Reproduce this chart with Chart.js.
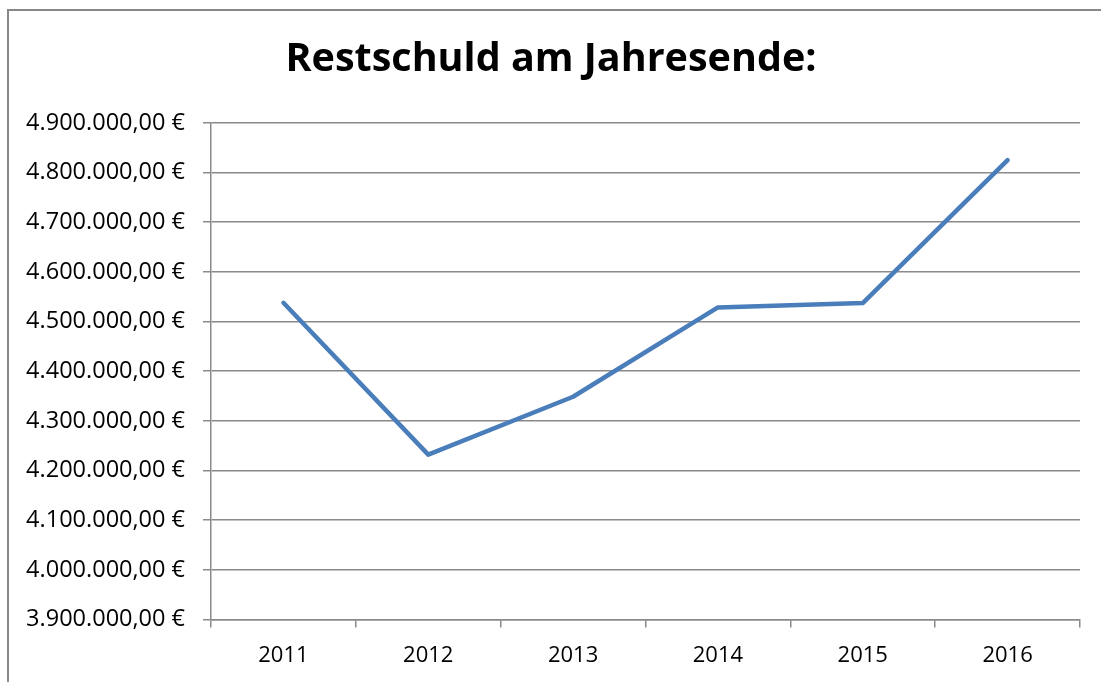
<!DOCTYPE html>
<html>
<head>
<meta charset="utf-8">
<script src="https://cdn.jsdelivr.net/npm/chart.js@4"></script>
<style>
    html, body { margin: 0; padding: 0; background: #fff; }
    #wrap { width: 1101px; height: 682px; }
</style>
</head>
<body>
<div id="wrap"><canvas id="chart" width="1101" height="682"></canvas></div>
<script>
let years = ['2011', '2012', '2013', '2014', '2015', '2016'];
let restschuld = [4537700, 4232000, 4348500, 4528400, 4537100, 4824900];
let yMin = 3900000;
let yMax = 4900000;
let yStep = 100000;

// 4900000 -> "4.900.000,00 €"
function euro(v) {
    let s = Math.round(v).toString();
    s = s.replace(/\B(?=(\d{3})+(?!\d))/g, '.');
    return s + ',00 €';
}

let gridGray = '#8a8a8a';

// Rahmen um das Diagramm wie in Excel
const frame = {
    id: 'frame',
    beforeDraw(chart) {
        let ctx = chart.ctx;
        ctx.save();
        ctx.fillStyle = '#fff';
        ctx.fillRect(0, 0, chart.width, chart.height);
        ctx.strokeStyle = '#888';
        ctx.lineWidth = 2;
        ctx.strokeRect(8, 10, 1200, 800);
        ctx.restore();
    }
};

new Chart(document.getElementById('chart'), {
    type: 'line',
    data: {
        labels: years,
        datasets: [
            {
                label: 'Restschuld',
                data: restschuld,
                borderColor: '#4a7ebb',
                borderWidth: 4.5,
                borderCapStyle: 'round',
                borderJoinStyle: 'round',
                pointRadius: 0,
                tension: 0,
                fill: false
            }
        ]
    },
    options: {
        responsive: false,
        animation: false,
        layout: {
            padding: { top: 0, right: 21, bottom: 0, left: 22 }
        },
        plugins: {
            legend: { display: false },
            tooltip: { enabled: false },
            title: {
                display: true,
                text: 'Restschuld am Jahresende:',
                color: '#000',
                font: { family: 'Open Sans', size: 39.5, weight: 'bold' },
                padding: { top: 36, bottom: 39.5 }
            }
        },
        scales: {
            x: {
                offset: true,
                grid: {
                    offset: true,
                    drawOnChartArea: false,
                    drawTicks: true,
                    tickLength: 8,
                    color: gridGray,
                    lineWidth: 1.5
                },
                border: { color: gridGray, width: 1.5 },
                ticks: {
                    color: '#000',
                    font: { family: 'Open Sans', size: 22 },
                    padding: 15,
                    maxRotation: 0
                },
                afterFit(scale) { scale.height = 62.5; }
            },
            y: {
                min: yMin,
                max: yMax,
                grid: {
                    color: gridGray,
                    lineWidth: 1.5,
                    tickLength: 8
                },
                border: { color: gridGray, width: 1.5 },
                ticks: {
                    stepSize: yStep,
                    color: '#000',
                    font: { family: 'Open Sans', size: 23.5 },
                    padding: 18,
                    callback: (v) => euro(v)
                },
                afterFit(scale) { scale.width = 189; }
            }
        }
    },
    plugins: [frame]
});
</script>
</body>
</html>
